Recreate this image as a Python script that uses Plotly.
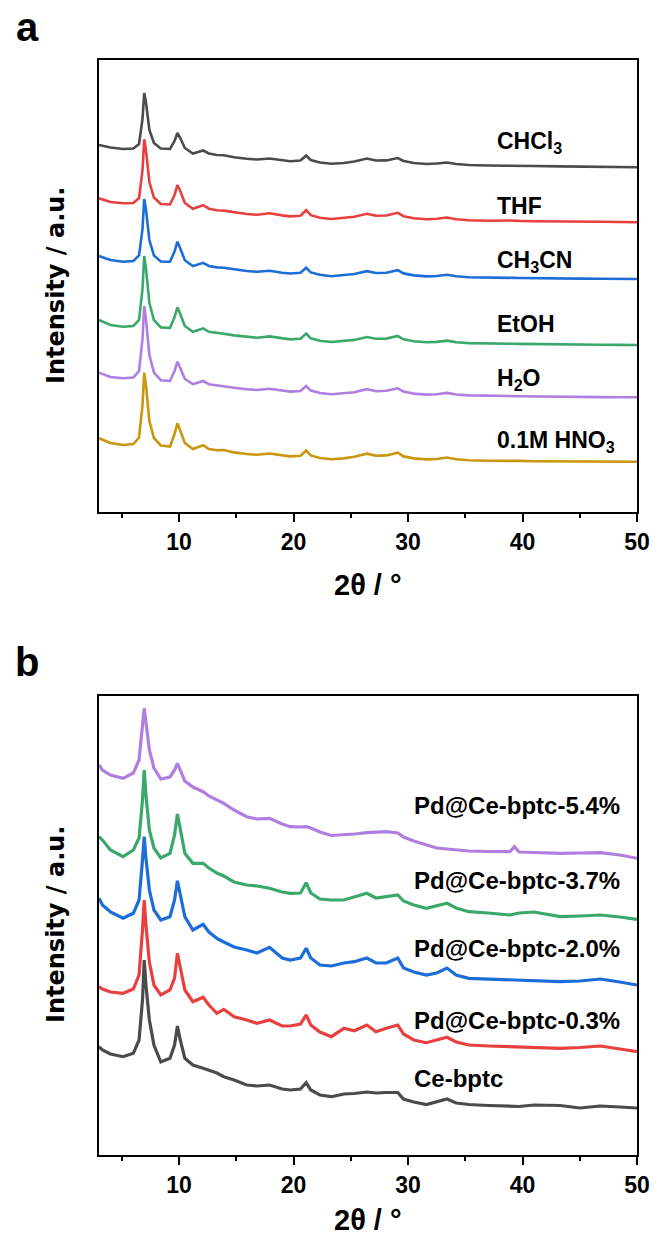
import plotly.graph_objects as go

# ---------------- data ----------------
# 2-theta sampling positions (degrees)
TWO_THETA = [3.0, 3.3, 4.0, 5.1, 6.0, 6.5, 6.8, 6.95, 7.1, 7.4, 7.8, 8.4, 9.2, 9.6,
             9.85, 10.1, 10.5, 11.2, 12.1, 12.6, 13.3, 13.9, 14.8, 15.9, 16.8, 17.9,
             19.0, 19.7, 20.6, 21.1, 21.5, 22.3, 23.3, 24.4, 25.3, 26.4, 27.2, 28.1,
             29.1, 29.6, 30.5, 31.6, 32.5, 33.4, 34.2, 35.3, 37.0, 38.9, 39.3, 39.7,
             41.0, 43.3, 45.0, 46.8, 48.5, 50.0]

# Panel a: Ce-bptc after soaking in different solvents (intensity, a.u.)
SOLVENT_LABELS = ["CHCl<sub>3</sub>", "THF", "CH<sub>3</sub>CN", "EtOH",
                  "H<sub>2</sub>O", "0.1M HNO<sub>3</sub>"]
I_CHCL3 = [720, 712, 695, 680, 685, 730, 980, 1240, 1150, 870, 740, 685, 680, 760,
           840, 790, 690, 635, 665, 635, 620, 618, 598, 582, 575, 585,
           565, 558, 565, 615, 570, 545, 532, 540, 555, 585, 565, 566,
           590, 560, 540, 530, 535, 545, 530, 520, 515, 515, 514, 513,
           510, 506, 505, 504, 500, 497]
I_THF = [737, 725, 700, 687, 690, 740, 1020, 1327, 1220, 900, 745, 680, 675, 770,
         870, 810, 690, 632, 668, 633, 618, 614, 596, 580, 572, 588,
         566, 556, 562, 618, 568, 542, 530, 538, 552, 582, 562, 565,
         592, 558, 538, 528, 532, 545, 528, 518, 512, 515, 512, 511,
         508, 503, 505, 502, 500, 497]
I_CH3CN = [730, 718, 690, 673, 680, 735, 1000, 1300, 1200, 890, 735, 675, 673, 775,
           873, 805, 688, 630, 662, 630, 616, 612, 595, 580, 572, 582,
           563, 555, 562, 612, 566, 542, 528, 536, 550, 578, 560, 563,
           588, 556, 536, 526, 530, 543, 527, 518, 512, 512, 511, 510,
           507, 503, 504, 502, 501, 500]
I_ETOH = [750, 735, 700, 683, 690, 750, 1060, 1390, 1270, 920, 750, 676, 670, 780,
          877, 810, 690, 632, 666, 632, 618, 613, 596, 580, 573, 586,
          564, 556, 563, 615, 567, 543, 530, 538, 551, 580, 562, 564,
          590, 557, 537, 527, 531, 544, 528, 519, 513, 513, 512, 511,
          508, 504, 505, 502, 501, 500]
I_H2O = [743, 730, 700, 687, 695, 760, 1080, 1410, 1280, 920, 745, 668, 660, 760,
         853, 790, 680, 628, 660, 628, 615, 610, 593, 578, 570, 583,
         562, 554, 560, 610, 564, 540, 527, 535, 548, 578, 558, 562,
         587, 554, 534, 524, 528, 541, 525, 516, 510, 510, 509, 508,
         505, 501, 502, 499, 498, 497]
I_HNO3 = [737, 722, 690, 670, 680, 745, 1070, 1393, 1270, 910, 740, 665, 655, 780,
          887, 815, 690, 630, 668, 630, 618, 620, 596, 580, 572, 585,
          563, 556, 562, 615, 566, 540, 528, 536, 552, 583, 562, 566,
          593, 556, 536, 526, 530, 545, 528, 518, 512, 514, 512, 511,
          508, 505, 507, 504, 503, 503]
OFFSETS_A = [2950, 2400, 1830, 1170, 650, 0]

# Panel b: Pd loading series (intensity, a.u.)
LOADING_LABELS = ["Pd@Ce-bptc-5.4%", "Pd@Ce-bptc-3.7%", "Pd@Ce-bptc-2.0%",
                  "Pd@Ce-bptc-0.3%", "Ce-bptc"]
I_PD54 = [1450, 1400, 1350, 1317, 1370, 1500, 1850, 2017, 1880, 1600, 1420, 1310, 1330, 1400,
          1467, 1400, 1290, 1230, 1183, 1140, 1100, 1067, 1000, 933, 910, 917,
          860, 833, 830, 833, 820, 780, 745, 750, 760, 773, 780, 783,
          770, 730, 690, 650, 620, 610, 600, 590, 585, 583, 633, 580,
          575, 567, 570, 573, 550, 517]
I_PD37 = [1333, 1300, 1200, 1133, 1200, 1320, 1700, 2000, 1750, 1400, 1220, 1120, 1167, 1350,
          1560, 1400, 1167, 1067, 1067, 1020, 970, 940, 880, 850, 840, 817,
          780, 767, 770, 873, 770, 710, 700, 700, 730, 767, 720, 733,
          750, 690, 650, 617, 640, 667, 620, 583, 570, 550, 560, 570,
          580, 533, 540, 550, 530, 507]
I_PD20 = [1367, 1300, 1230, 1167, 1217, 1350, 1750, 1983, 1770, 1450, 1250, 1150, 1183, 1350,
          1543, 1400, 1183, 1050, 1107, 1030, 967, 930, 880, 850, 820, 877,
          770, 750, 770, 867, 770, 700, 690, 720, 733, 770, 720, 720,
          770, 670, 630, 600, 620, 670, 600, 567, 560, 550, 550, 545,
          540, 533, 540, 560, 530, 500]
I_PD03 = [1133, 1110, 1080, 1067, 1110, 1250, 1700, 2000, 1750, 1380, 1150, 1050, 1100, 1220,
          1467, 1320, 1100, 983, 1027, 950, 867, 907, 833, 800, 767, 800,
          740, 740, 760, 850, 750, 680, 633, 717, 693, 750, 683, 717,
          750, 660, 600, 573, 600, 627, 580, 550, 540, 533, 530, 530,
          525, 517, 525, 540, 510, 483]
I_CEBPTC = [1083, 1050, 1010, 983, 1017, 1150, 1550, 1950, 1700, 1350, 1100, 930, 967, 1100,
            1290, 1150, 967, 900, 867, 850, 820, 783, 750, 700, 690, 700,
            660, 650, 660, 723, 650, 600, 583, 610, 615, 630, 620, 625,
            625, 560, 530, 505, 530, 560, 520, 505, 495, 486, 490, 485,
            500, 495, 470, 490, 480, 470]
OFFSETS_B = [2450, 1850, 1200, 550, 0]

X_TICKS = [10, 20, 30, 40, 50]

# ---------------- styling ----------------
COLORS_A = ["#4b4b4b", "#e8403f", "#1c6dd8", "#3aa86a", "#b07ee0", "#c9960c"]
COLORS_B = ["#b07ee0", "#3aa86a", "#1c6dd8", "#e8403f", "#4b4b4b"]

W, H = 654, 1236
ARIAL = "Liberation Sans, Arial, sans-serif"
WIDE = "DejaVu Sans, sans-serif"


def px(xp):
    return xp / W


def py(yp):
    return 1 - yp / H


fig = go.Figure()

series_a = [I_CHCL3, I_THF, I_CH3CN, I_ETOH, I_H2O, I_HNO3]
for vals, off, col, name in zip(series_a, OFFSETS_A, COLORS_A, SOLVENT_LABELS):
    fig.add_trace(go.Scatter(x=TWO_THETA, y=[v + off for v in vals], mode="lines",
                             line=dict(color=col, width=2.6), name=name,
                             xaxis="x", yaxis="y", showlegend=False))

series_b = [I_PD54, I_PD37, I_PD20, I_PD03, I_CEBPTC]
for vals, off, col, name in zip(series_b, OFFSETS_B, COLORS_B, LOADING_LABELS):
    fig.add_trace(go.Scatter(x=TWO_THETA, y=[v + off for v in vals], mode="lines",
                             line=dict(color=col, width=3.2), name=name,
                             xaxis="x2", yaxis="y2", showlegend=False))

xaxis_common = dict(
    range=[3, 50], tickvals=X_TICKS, ticks="outside", ticklen=8, tickwidth=2,
    tickcolor="black", showline=True, mirror=True, linecolor="black", linewidth=2,
    showgrid=False, zeroline=False, automargin=False,
    tickfont=dict(family=ARIAL, size=23, color="black", weight="bold"),
    minor=dict(ticks="outside", ticklen=4, tickwidth=2, tickcolor="black",
               tickvals=[5, 15, 25, 35, 45]),
)
yaxis_common = dict(
    showticklabels=False, ticks="", showline=True, mirror=True, linecolor="black",
    linewidth=2, showgrid=False, zeroline=False, automargin=False,
)

fig.update_layout(
    width=W, height=H, autosize=False, margin=dict(l=0, r=0, t=0, b=0, pad=0),
    paper_bgcolor="white", plot_bgcolor="white",
    xaxis=dict(domain=[px(99), px(637)], anchor="y", **xaxis_common),
    yaxis=dict(domain=[py(512), py(60)], anchor="x", range=[0, 4520], **yaxis_common),
    xaxis2=dict(domain=[px(99), px(637)], anchor="y2", **xaxis_common),
    yaxis2=dict(domain=[py(1155), py(696)], anchor="x2", range=[0, 4590], **yaxis_common),
)

annotations = []

# curve labels, panel a
LABEL_Y_A = [3690, 3063, 2510, 1885, 1325, 710]
for text, yv in zip(SOLVENT_LABELS, LABEL_Y_A):
    annotations.append(dict(x=37.6, y=yv, xref="x", yref="y", text=text,
                            xanchor="left", yanchor="middle", showarrow=False,
                            font=dict(family=ARIAL, size=23, color="black", weight="bold")))

# curve labels, panel b
LABEL_Y_B = [3500, 2750, 2070, 1350, 770]
for text, yv in zip(LOADING_LABELS, LABEL_Y_B):
    annotations.append(dict(x=30.3, y=yv, xref="x2", yref="y2", text=text,
                            xanchor="left", yanchor="middle", showarrow=False,
                            font=dict(family=ARIAL, size=24, color="black", weight="bold")))

# panel letters
for letter, yl in (("a", 27), ("b", 662)):
    annotations.append(dict(x=px(27), y=py(yl), xref="paper", yref="paper", text=letter,
                            xanchor="center", yanchor="middle", showarrow=False,
                            font=dict(family=ARIAL, size=40, color="black", weight="bold")))

# axis titles
for ymid, ytitle in ((286, 585), (925, 1220)):
    annotations.append(dict(x=px(56), y=py(ymid), xref="paper", yref="paper",
                            text="Intensity / a.u.", textangle=-90,
                            xanchor="center", yanchor="middle", showarrow=False,
                            font=dict(family=WIDE, size=24, color="black", weight="bold")))
    annotations.append(dict(x=px(368), y=py(ytitle), xref="paper", yref="paper",
                            text="2θ / °", xanchor="center", yanchor="middle",
                            showarrow=False,
                            font=dict(family=ARIAL, size=29, color="black", weight="bold")))

fig.update_layout(annotations=annotations)

fig.write_html("out.html")
